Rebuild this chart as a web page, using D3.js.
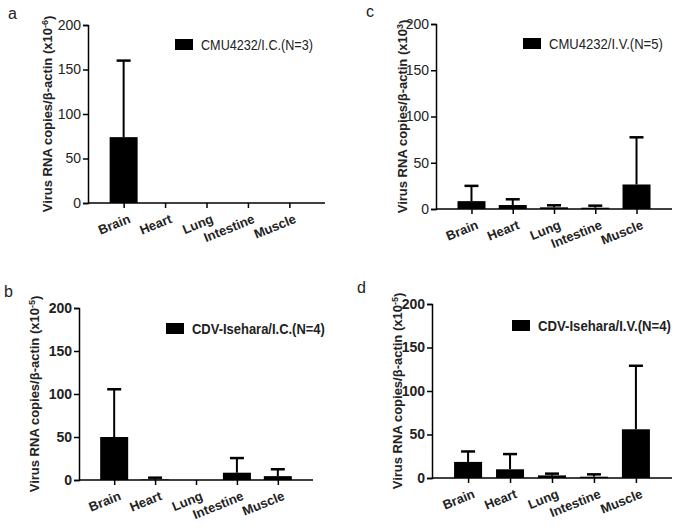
<!DOCTYPE html>
<html lang="en">
<head>
	<meta charset="UTF-8">
	<title>Virus RNA copies</title>
	<style>
		body { margin: 0; background: #fff; }
		svg { display: block; }
	</style>
</head>
<body>
	<script src="https://cdn.jsdelivr.net/npm/d3@7"></script>
	<script>
		// tissues on the x axis
		var tissues = ["Brain", "Heart", "Lung", "Intestine", "Muscle"];
		var yTicks = [0, 50, 100, 150, 200];

		// means and upper error bar (mean + SD)
		var meanA = [74, 0, 0, 0, 0],
			errA = [160, 0, 0, 0, 0];
		var meanB = [50, 0.6, 0, 8.5, 4.5],
			errB = [105.5, 2.7, 0, 25.5, 12.5];
		var meanC = [8.5, 4.3, 1.8, 1.4, 26.5],
			errC = [25, 10.5, 4, 3.6, 77.5];
		var meanD = [18.5, 10, 3, 1.5, 56],
			errD = [30.5, 27.5, 5, 4.2, 129];

		var legendA = "CMU4232/I.C.(N=3)",
			legendB = "CDV-Isehara/I.C.(N=4)",
			legendC = "CMU4232/I.V.(N=5)",
			legendD = "CDV-Isehara/I.V.(N=4)";

		var width = 680, height = 530;

		var svg = d3.select("body").append("svg")
			.attr("width", width)
			.attr("height", height);

		var font = "'Liberation Sans', Arial, sans-serif";

		// layout of each panel
		var panels = [
			{letter: "a", lx: 8, ly: 19, x0: 88, x1: 325, y0: 203, y1: 25, titleX: 47, exp: "-6",
				mean: meanA, err: errA, legend: legendA, rx: 175, ry: 39, legLen: 112, bold: false},
			{letter: "c", lx: 366, ly: 17, x0: 436, x1: 672, y0: 209, y1: 24, titleX: 402, exp: "3",
				mean: meanC, err: errC, legend: legendC, rx: 523, ry: 38, legLen: 114, bold: false},
			{letter: "b", lx: 4, ly: 297, x0: 79, x1: 313, y0: 480, y1: 308, titleX: 34, exp: "-5",
				mean: meanB, err: errB, legend: legendB, rx: 166, ry: 323, legLen: 133, bold: true},
			{letter: "d", lx: 357, ly: 293, x0: 432, x1: 672, y0: 478, y1: 304, titleX: 397, exp: "-5",
				mean: meanD, err: errD, legend: legendD, rx: 512, ry: 320, legLen: 133, bold: true}
		];

		panels.forEach(drawPanel);

		function drawPanel(p) {
			var g = svg.append("g").attr("class", "panel-" + p.letter);

			var x = d3.scalePoint()
				.domain(tissues)
				.range([p.x0, p.x1])
				.padding(0.86);

			var y = d3.scaleLinear()
				.domain([0, 200])
				.range([p.y0, p.y1]);

			var data = tissues.map(function(t, i) {
				return {name: t, mean: p.mean[i], err: p.err[i]};
			});

			// bars
			var barW = 28;
			g.selectAll("rect.bar")
				.data(data)
				.enter()
				.append("rect")
				.attr("class", "bar")
				.attr("x", function(d) { return x(d.name) - barW / 2; })
				.attr("y", function(d) { return y(d.mean); })
				.attr("width", barW)
				.attr("height", function(d) { return y(0) - y(d.mean); })
				.attr("fill", "#000");

			// upper error bars
			var errs = data.filter(function(d) { return d.err > 0; });
			g.selectAll("line.err")
				.data(errs)
				.enter()
				.append("line")
				.attr("class", "err")
				.attr("x1", function(d) { return x(d.name); })
				.attr("x2", function(d) { return x(d.name); })
				.attr("y1", function(d) { return y(d.mean); })
				.attr("y2", function(d) { return y(d.err); })
				.attr("stroke", "#000")
				.attr("stroke-width", 2);
			g.selectAll("line.cap")
				.data(errs)
				.enter()
				.append("line")
				.attr("class", "cap")
				.attr("x1", function(d) { return x(d.name) - 7; })
				.attr("x2", function(d) { return x(d.name) + 7; })
				.attr("y1", function(d) { return y(d.err); })
				.attr("y2", function(d) { return y(d.err); })
				.attr("stroke", "#000")
				.attr("stroke-width", 2.5);

			// y axis
			var yAxis = g.append("g")
				.attr("transform", "translate(" + p.x0 + ",0)")
				.call(d3.axisLeft(y).tickValues(yTicks).tickSize(5).tickPadding(2).tickFormat(d3.format("d")));
			yAxis.select(".domain").attr("stroke-width", 1.5);
			yAxis.selectAll(".tick line").attr("stroke-width", 1.5);
			yAxis.selectAll("text")
				.attr("font-family", font)
				.attr("font-weight", p.bold ? "bold" : "normal")
				.attr("font-size", 14)
				.attr("fill", "#222");

			// x axis
			var xAxis = g.append("g")
				.attr("transform", "translate(0," + p.y0 + ")")
				.call(d3.axisBottom(x).tickSize(5).tickSizeOuter(0));
			xAxis.select(".domain")
				.attr("d", "M" + p.x0 + ",0H" + p.x1)
				.attr("stroke-width", 1.5);
			xAxis.selectAll(".tick line").attr("stroke-width", 1.5);
			xAxis.selectAll("text")
				.attr("text-anchor", "end")
				.attr("y", 0)
				.attr("transform", "translate(3,9) rotate(-22)")
				.attr("dy", "0.85em")
				.attr("font-family", font)
				.attr("font-weight", "bold")
				.attr("font-size", 13)
				.attr("fill", "#222");

			// y title
			var title = g.append("text")
				.attr("transform", "translate(" + p.titleX + "," + ((p.y0 + p.y1) / 2) + ") rotate(-90)")
				.attr("text-anchor", "middle")
				.attr("dy", "0.35em")
				.attr("font-family", font)
				.attr("font-weight", "bold")
				.attr("font-size", 13)
				.attr("fill", "#222");
			title.append("tspan").text("Virus RNA copies/\u03b2-actin (x10");
			title.append("tspan").attr("dy", "-0.45em").attr("font-size", 9).text(p.exp);
			title.append("tspan").attr("dy", "0.45em").text(")");

			// legend
			g.append("rect")
				.attr("x", p.rx)
				.attr("y", p.ry)
				.attr("width", 18)
				.attr("height", 11)
				.attr("fill", "#000");
			var leg = g.append("text")
				.attr("x", 0)
				.attr("y", 0)
				.attr("dy", "0.35em")
				.attr("font-family", font)
				.attr("font-weight", p.bold ? "bold" : "normal")
				.attr("font-size", 14)
				.attr("fill", "#222")
				.text(p.legend);
			// stretch the label to the width it has in the figure
			var w = leg.node().getComputedTextLength();
			leg.attr("transform", "translate(" + (p.rx + 26) + "," + (p.ry + 6) + ") scale(" + (p.legLen / w) + ",1)");

			// panel letter
			g.append("text")
				.attr("x", p.lx)
				.attr("y", p.ly)
				.attr("font-family", font)
				.attr("font-size", 16)
				.attr("fill", "#222")
				.text(p.letter);
		}
	</script>
</body>
</html>
